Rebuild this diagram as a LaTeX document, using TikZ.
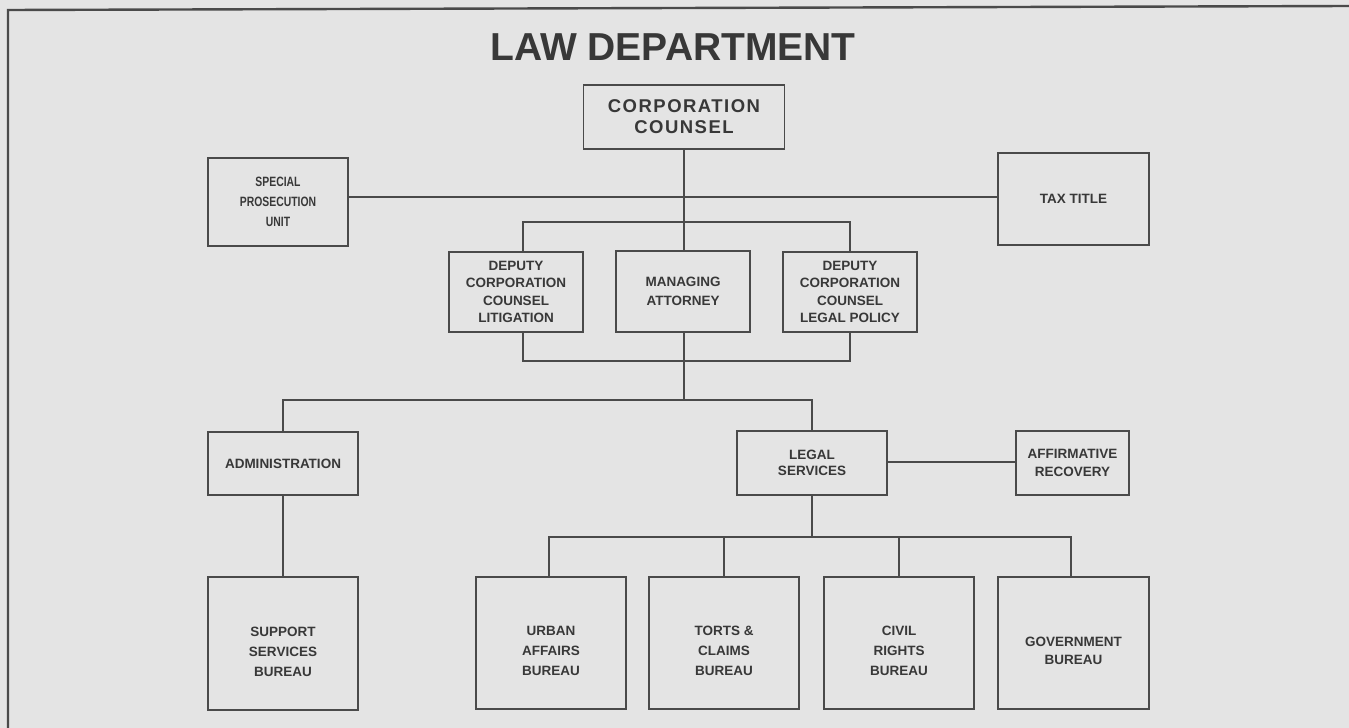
\documentclass[tikz,border=0pt]{standalone}
\usepackage{fontspec}
\setmainfont{Liberation Sans}
\newfontfamily\narrowfont[FakeStretch=0.77]{Liberation Sans}
\newfontfamily\spacedfont[LetterSpace=8]{Liberation Sans}
\definecolor{paper}{HTML}{E4E4E4}
\definecolor{ink}{HTML}{4A4A4A}
\definecolor{inktext}{HTML}{383838}
\begin{document}
\begin{tikzpicture}[x=1pt,y=-1pt,
  box/.style={draw=ink, line width=1.2pt, rectangle, inner sep=0pt,
    align=center, text=inktext},
  dims/.style 2 args={minimum width=#1pt, minimum height=#2pt},
  boxtext/.style={font=\bfseries\fontsize{13.5}{#1}\selectfont},
  lowtext/.style={text=inktext, align=center, yshift=-8pt,
    font=\bfseries\fontsize{13.5}{#1}\selectfont},
  link/.style={draw=ink, line width=1.2pt}
]
% page and frame
\useasboundingbox (0,0) rectangle (1349,728);
\fill[paper] (0,0) rectangle (1349,728);
\draw[ink, line width=2.4pt] (8,728) -- (8,10) -- (1349,6);

% title
\node[anchor=base, text=inktext, font=\bfseries\fontsize{39}{39}\selectfont]
  (title) at (673,60) {LAW DEPARTMENT};

% top level
\node[box, dims={201}{64}, font=\spacedfont\bfseries\fontsize{18.5}{21}\selectfont]
  (cc) at (684,117) {CORPORATION\\COUNSEL};
\node[box, dims={140}{88}, font=\narrowfont\bfseries\fontsize{13.5}{20}\selectfont]
  (spu) at (278,202) {SPECIAL\\PROSECUTION\\UNIT};
\node[box, dims={151}{92}, boxtext=18] (tax) at (1073.5,199) {TAX TITLE};

% deputies row
\node[box, dims={134}{80}, boxtext=17.5] (dl) at (516,292)
  {DEPUTY\\CORPORATION\\COUNSEL\\LITIGATION};
\node[box, dims={134}{81}, boxtext=18.5] (ma) at (683,291.5)
  {MANAGING\\ATTORNEY};
\node[box, dims={134}{80}, boxtext=17.5] (dp) at (850,292)
  {DEPUTY\\CORPORATION\\COUNSEL\\LEGAL POLICY};

% second row
\node[box, dims={150}{63}, boxtext=18] (adm) at (283,463.5) {ADMINISTRATION};
\node[box, dims={150}{64}, boxtext=15.5] (ls) at (812,463) {LEGAL\\SERVICES};
\node[box, dims={113}{64}, boxtext=18] (ar) at (1072.5,463) {AFFIRMATIVE\\RECOVERY};

% bureaus
\node[box, dims={150}{133}, label={[lowtext=20]center:SUPPORT\\SERVICES\\BUREAU}]
  (ssb) at (283,643.5) {};
\node[box, dims={150}{132}, label={[lowtext=20]center:URBAN\\AFFAIRS\\BUREAU}]
  (ua) at (551,643) {};
\node[box, dims={150}{132}, label={[lowtext=20]center:TORTS \&\\CLAIMS\\BUREAU}]
  (tc) at (724,643) {};
\node[box, dims={150}{132}, label={[lowtext=20]center:CIVIL\\RIGHTS\\BUREAU}]
  (cr) at (899,643) {};
\node[box, dims={151}{132}, label={[lowtext=18]center:GOVERNMENT\\BUREAU}]
  (gov) at (1073.5,643) {};

% junction points of the connectors
\coordinate (jside) at (684,197);
\coordinate (jtop) at (684,222);
\coordinate (jbot) at (684,361);
\coordinate (jmid) at (684,400);
\coordinate (jbur) at (812,537);
\coordinate (dlx) at (523,0);
\coordinate (uax) at (549,0);
\coordinate (govx) at (1071,0);

% connectors
\draw[link] (cc.south) -- (cc.south |- ma.north);
\draw[link] (spu.east |- jside) -- (tax.west |- jside);
\draw[link] (dl.north -| dlx) |- (jtop) -| (dp.north);
\draw[link] (dl.south -| dlx) |- (jbot) -| (dp.south);
\draw[link] (ma.south -| jbot) -- (jmid);
\draw[link] (adm.north) |- (jmid) -| (ls.north);
\draw[link] (adm.south) -- (adm.south |- ssb.north);
\draw[link] (ls.east |- 0,462) -- (ar.west |- 0,462);
\draw[link] (ls.south) -- (jbur);
\draw[link] (ua.north -| uax) |- (jbur) -| (gov.north -| govx);
\draw[link] (tc.north) -- (tc.north |- jbur);
\draw[link] (cr.north) -- (cr.north |- jbur);
\end{tikzpicture}
\end{document}
